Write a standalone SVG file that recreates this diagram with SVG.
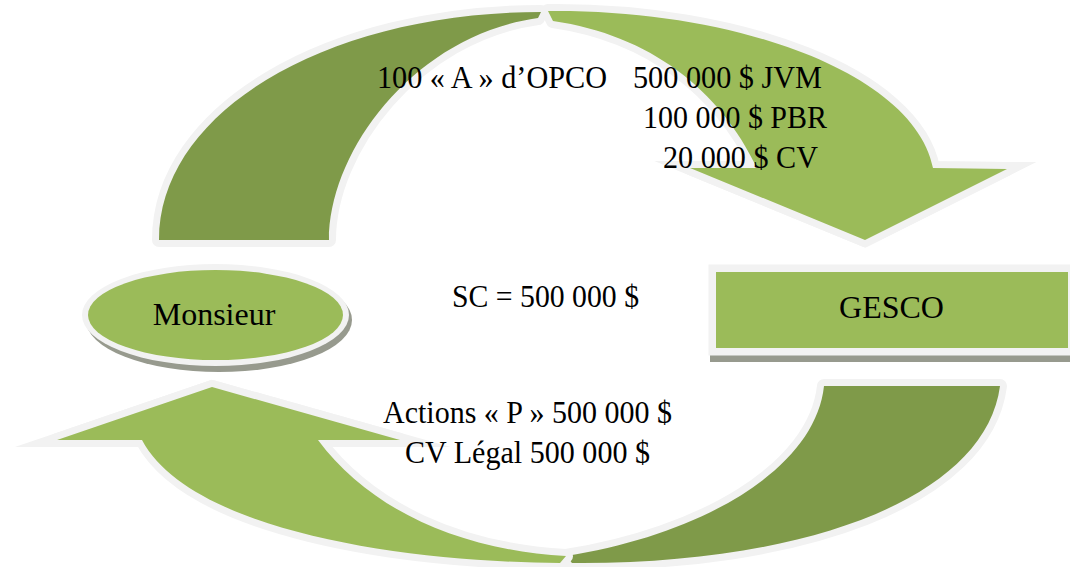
<svg xmlns="http://www.w3.org/2000/svg" width="1070" height="567" viewBox="0 0 1070 567">
  <style>
    .outline { fill: #f2f2f2; stroke: #f2f2f2; stroke-width: 14; stroke-linejoin: round; }
    .outline-head { fill: #f2f2f2; stroke: #f2f2f2; stroke-width: 14; stroke-linejoin: miter; stroke-miterlimit: 8; }
    .dark { fill: #7f9a49; }
    .light { fill: #9bbb59; }
    .shadow { fill: #979a8e; }
    .lbl { font-family: "Liberation Serif", "Times New Roman", serif; font-size: 32px; fill: #000; }
    .nlbl { font-family: "Liberation Serif", "Times New Roman", serif; font-size: 32px; fill: #000; text-anchor: middle; }
  </style>
  <defs>
    <path id="topDark" d="M159,240 C159,110 330,12 541,12 L538,18 C415,35 329,150 329,240 Z"/>
    <path id="topLight" d="M548,11 C740,9 915,75 933,168 L1007,169 L865,240 L690,168 L757,168 C720,90 650,35 553,21 Z"/>
    <path id="topHead" d="M690,168 L1007,169 L865,240 Z"/>
    <path id="botDark" d="M824,386 L1000,386 C985,500 800,565 572,563 L566,556 C700,535 815,470 824,386 Z"/>
    <path id="botLight" d="M57,440 L212,387 L400,440 L318,440 C370,510 460,550 566,556 L560,563 C400,562 190,530 142,440 Z"/>
    <path id="botHead" d="M57,440 L212,387 L400,440 Z"/>
  </defs>
  <rect width="1070" height="567" fill="#ffffff"/>
  <g id="connectors">
    <g id="arrow-top">
      <use href="#topDark" class="outline"/>
      <use href="#topDark" class="dark"/>
      <use href="#topLight" class="outline"/>
      <use href="#topHead" class="outline-head"/>
      <use href="#topLight" class="light"/>
    </g>
    <g id="arrow-bottom">
      <use href="#botDark" class="outline"/>
      <use href="#botDark" class="dark"/>
      <use href="#botLight" class="outline"/>
      <use href="#botHead" class="outline-head"/>
      <use href="#botLight" class="light"/>
    </g>
  </g>
  <g id="node-monsieur">
    <ellipse class="shadow" cx="219" cy="320" rx="133" ry="52"/>
    <ellipse cx="215.5" cy="315" rx="133.5" ry="51" fill="#f2f2f2"/>
    <ellipse class="light" cx="215.5" cy="315" rx="127.5" ry="45"/>
    <text class="nlbl" x="214" y="325">Monsieur</text>
  </g>
  <g id="node-gesco">
    <rect class="shadow" x="710" y="272" width="370" height="90"/>
    <rect x="708.5" y="264.5" width="370" height="91" fill="#f2f2f2"/>
    <rect class="light" x="716" y="272" width="352" height="76"/>
    <text class="nlbl" x="891.5" y="318">GESCO</text>
  </g>
  <g id="labels">
    <text class="lbl" y="88"><tspan x="377" textLength="230" lengthAdjust="spacingAndGlyphs">100 « A » d’OPCO</tspan><tspan x="633" textLength="189" lengthAdjust="spacingAndGlyphs">500 000 $ JVM</tspan></text>
    <text class="lbl" x="643" y="128" textLength="184" lengthAdjust="spacingAndGlyphs">100 000 $ PBR</text>
    <text class="lbl" x="663" y="168" textLength="155" lengthAdjust="spacingAndGlyphs">20 000 $ CV</text>
    <text class="lbl" x="452" y="307" textLength="187" lengthAdjust="spacingAndGlyphs">SC = 500 000 $</text>
    <text class="lbl" x="383" y="423" textLength="289" lengthAdjust="spacingAndGlyphs">Actions « P » 500 000 $</text>
    <text class="lbl" x="405" y="463" textLength="245" lengthAdjust="spacingAndGlyphs">CV Légal 500 000 $</text>
  </g>
</svg>
